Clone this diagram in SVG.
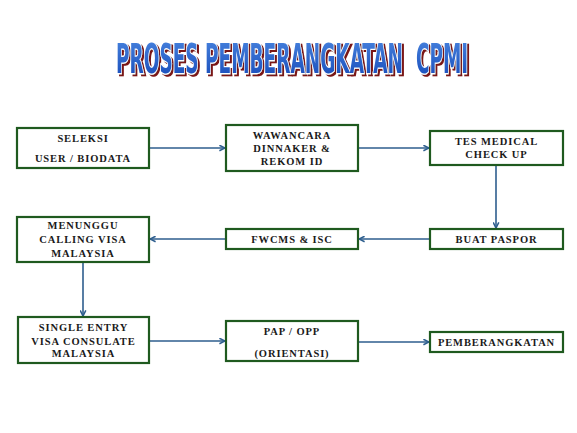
<svg xmlns="http://www.w3.org/2000/svg" width="577" height="433" viewBox="0 0 577 433">
<style>
.box{fill:#fff;stroke:#1f5a1f;stroke-width:2.2}
.t{font-family:"Liberation Serif","DejaVu Serif",serif;font-weight:bold;font-size:10.5px;fill:#1a1a1a;text-anchor:middle;letter-spacing:0.9px}
.c{fill:none;stroke:#2e5e8e;stroke-width:1.6}
.title{font-family:"Liberation Sans Narrow","DejaVu Sans Condensed","Liberation Sans",sans-serif;font-weight:bold;font-size:41px;white-space:pre}
</style>
<defs>
<marker id="ah" viewBox="0 0 10 10" refX="9" refY="5" markerWidth="7" markerHeight="7" markerUnits="userSpaceOnUse" orient="auto">
<path d="M1,1 L9,5 L1,9" fill="none" stroke="#2e5e8e" stroke-width="2.2"/>
</marker>
<linearGradient id="tg" x1="0" y1="0" x2="0" y2="1">
<stop offset="0" stop-color="#4a86e0"/>
<stop offset="1" stop-color="#1448b8"/>
</linearGradient>
<filter id="sh" filterUnits="userSpaceOnUse" x="90" y="25" width="410" height="65">
<feDropShadow dx="2" dy="2" stdDeviation="0.4" flood-color="#7a1218" flood-opacity="1"/>
</filter>
</defs>
<rect width="577" height="433" fill="#fff"/>
<g id="title" filter="url(#sh)">
<text class="title" xml:space="preserve" transform="translate(116,72.5) scale(0.6,1)" x="0" y="0" textLength="587" lengthAdjust="spacingAndGlyphs" fill="url(#tg)" stroke="#fff" stroke-width="2.5" paint-order="stroke">PROSES PEMBERANGKATAN  CPMI</text>
</g>
<g id="connectors">
<line class="c" x1="149" y1="148" x2="225" y2="148" marker-end="url(#ah)"/>
<line class="c" x1="358" y1="148" x2="429" y2="148" marker-end="url(#ah)"/>
<line class="c" x1="496" y1="165" x2="496" y2="228" marker-end="url(#ah)"/>
<line class="c" x1="430" y1="239" x2="359" y2="239" marker-end="url(#ah)"/>
<line class="c" x1="226" y1="239" x2="150" y2="239" marker-end="url(#ah)"/>
<line class="c" x1="83" y1="262" x2="83" y2="316" marker-end="url(#ah)"/>
<line class="c" x1="149" y1="341" x2="225" y2="341" marker-end="url(#ah)"/>
<line class="c" x1="358" y1="342" x2="429" y2="342" marker-end="url(#ah)"/>
</g>
<g id="seleksi">
<rect class="box" x="17" y="128" width="132" height="40"/>
<text class="t" x="83" y="142">SELEKSI</text>
<text class="t" x="83" y="162">USER / BIODATA</text>
</g>
<g id="wawancara">
<rect class="box" x="226" y="125" width="132" height="46"/>
<text class="t" x="292" y="139">WAWANCARA</text>
<text class="t" x="292" y="152">DINNAKER &amp;</text>
<text class="t" x="292" y="165">REKOM ID</text>
</g>
<g id="tes-medical">
<rect class="box" x="430" y="131" width="133" height="34"/>
<text class="t" x="496.5" y="145">TES MEDICAL</text>
<text class="t" x="496.5" y="158">CHECK UP</text>
</g>
<g id="buat-paspor">
<rect class="box" x="430" y="229" width="133" height="20"/>
<text class="t" x="496.5" y="243">BUAT PASPOR</text>
</g>
<g id="fwcms">
<rect class="box" x="226" y="229" width="132" height="20"/>
<text class="t" x="292" y="243">FWCMS &amp; ISC</text>
</g>
<g id="menunggu">
<rect class="box" x="17" y="217" width="132" height="45"/>
<text class="t" x="83" y="229">MENUNGGU</text>
<text class="t" x="83" y="243">CALLING VISA</text>
<text class="t" x="83" y="257">MALAYSIA</text>
</g>
<g id="single-entry">
<rect class="box" x="18" y="317" width="131" height="46"/>
<text class="t" x="83.5" y="331">SINGLE ENTRY</text>
<text class="t" x="83.5" y="345">VISA CONSULATE</text>
<text class="t" x="83.5" y="357">MALAYSIA</text>
</g>
<g id="pap-opp">
<rect class="box" x="226" y="321" width="132" height="40"/>
<text class="t" x="292" y="335">PAP / OPP</text>
<text class="t" x="292" y="357">(ORIENTASI)</text>
</g>
<g id="pemberangkatan">
<rect class="box" x="430" y="332" width="133" height="20"/>
<text class="t" x="496.5" y="346">PEMBERANGKATAN</text>
</g>
</svg>
